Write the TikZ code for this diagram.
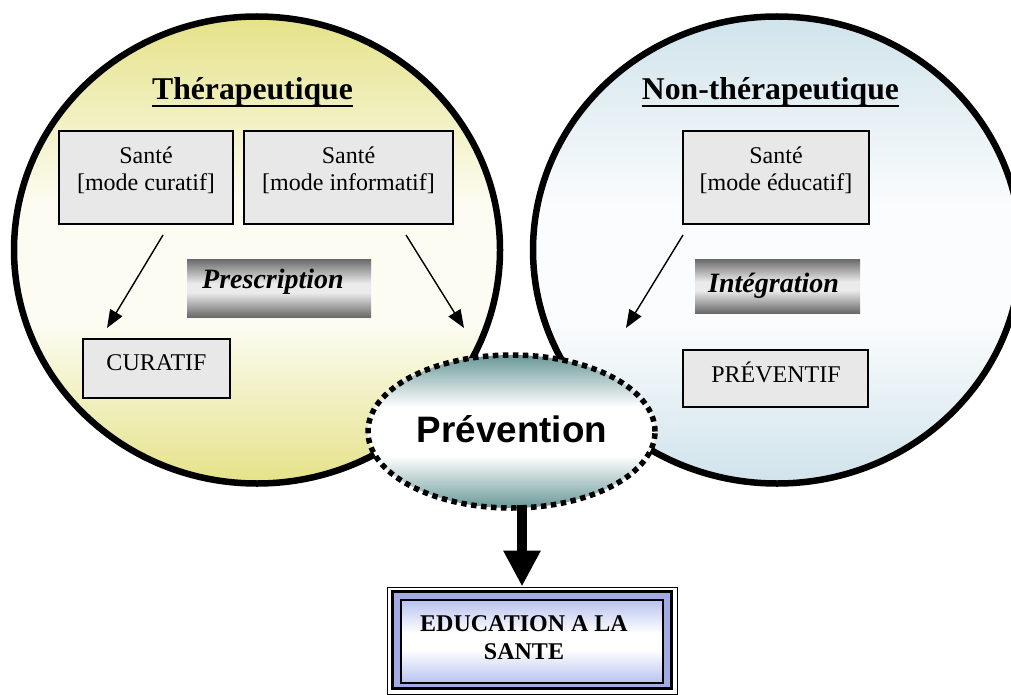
\documentclass[tikz,border=0pt]{standalone}
\usepackage{fontspec}
\setmainfont{Liberation Serif}
\newfontfamily\arialfont{Liberation Sans}
\usetikzlibrary{shapes.geometric,arrows.meta,calc}
\definecolor{cYel}{RGB}{229,226,136}
\definecolor{cYelL}{RGB}{252,252,242}
\definecolor{cBlu}{RGB}{208,227,235}
\definecolor{cBluL}{RGB}{250,252,253}
\definecolor{cTeal}{RGB}{106,152,152}
\definecolor{boxgray}{RGB}{232,232,232}
\definecolor{gDark}{RGB}{105,105,105}
\definecolor{gLight}{RGB}{235,235,235}
\definecolor{eduBand}{RGB}{160,172,226}
\definecolor{eduBlue}{RGB}{184,194,238}
\pgfdeclareverticalshading{leftshade}{100bp}{color(0bp)=(cYel); color(25bp)=(cYel); color(42bp)=(cYelL); color(55bp)=(cYelL); color(75bp)=(cYel); color(100bp)=(cYel)}
\pgfdeclareverticalshading{rightshade}{100bp}{color(0bp)=(cBlu); color(25bp)=(cBlu); color(42bp)=(cBluL); color(55bp)=(cBluL); color(75bp)=(cBlu); color(100bp)=(cBlu)}
\pgfdeclareverticalshading{prevshade}{100bp}{color(0bp)=(cTeal); color(25bp)=(cTeal); color(42bp)=(white); color(58bp)=(white); color(75bp)=(cTeal); color(100bp)=(cTeal)}
\pgfdeclareverticalshading{greyshade}{100bp}{color(0bp)=(gDark); color(25bp)=(gDark); color(46bp)=(gLight); color(54bp)=(gLight); color(75bp)=(gDark); color(100bp)=(gDark)}
\pgfdeclareverticalshading{edushade}{100bp}{color(0bp)=(eduBlue); color(25bp)=(eduBlue); color(45bp)=(white); color(55bp)=(white); color(75bp)=(eduBlue); color(100bp)=(eduBlue)}
\begin{document}
\begin{tikzpicture}[x=1pt,y=-1pt,
  bigcirc/.style={ellipse, draw, line width=6.5pt, inner sep=0pt, shade},
  box/.style={rectangle, draw, line width=1.4pt, fill=boxgray, inner sep=0pt},
  txt/.style={inner sep=0pt, font=\fontsize{24}{27.6}\selectfont, align=center},
  ttl/.style={inner sep=0pt, font=\fontsize{31.7}{38}\selectfont\bfseries},
  gbox/.style={rectangle, inner sep=0pt, shade, shading=greyshade},
  gtxt/.style={inner sep=0pt, anchor=base west, font=\fontsize{28}{32}\selectfont\bfseries\itshape},
  arr/.style={line width=1.4pt, -{Triangle[length=18pt,width=14pt]}}]
\useasboundingbox (0,0) rectangle (1011,695);
\clip (0,0) rectangle (1011,695);
% big circles
\node[bigcirc, shading=leftshade, minimum width=486pt, minimum height=467pt] (lc) at (257,250) {};
\node[bigcirc, shading=rightshade, minimum width=488pt, minimum height=467pt] (rc) at (777,250) {};
% titles
\node[ttl, anchor=base] (t1) at (252.5,100) {Thérapeutique};
\node[ttl, anchor=base] (t2) at (770.5,100) {Non-thérapeutique};
\draw[line width=2pt] ([yshift=-6pt]t1.base west) -- ([yshift=-6pt]t1.base east);
\draw[line width=2pt] ([yshift=-6pt]t2.base west) -- ([yshift=-6pt]t2.base east);
% boxes
\node[box, minimum width=174pt, minimum height=93pt] (b1) at (146,177.5) {};
\node[box, minimum width=209pt, minimum height=93pt] (b2) at (348.5,177.5) {};
\node[box, minimum width=186pt, minimum height=93pt] (b3) at (776,177.5) {};
\node[txt, anchor=north] (b1t) at (146,146.5) {Santé\\{[}mode curatif{]}};
\node[txt, anchor=north] (b2t) at (348.5,146.5) {Santé\\{[}mode informatif{]}};
\node[txt, anchor=north] (b3t) at (776,146.5) {Santé\\{[}mode éducatif{]}};
\node[box, minimum width=147pt, minimum height=59pt] (cur) at (156.5,368.5) {};
\node[txt, anchor=base] (curt) at (156.5,370) {CURATIF};
\node[box, minimum width=185pt, minimum height=57pt] (pre) at (775.5,378.5) {};
\node[txt, anchor=base] (pret) at (776,382) {PRÉVENTIF};
% grey labels
\node[gbox, minimum width=184pt, minimum height=58pt] (presc) at (279,288) {};
\node[gtxt] (presct) at (202,288) {Prescription};
\node[gbox, minimum width=165pt, minimum height=54pt] (integ) at (777.5,286) {};
\node[gtxt] (integt) at (708,292) {Intégration};
% thin arrows
\coordinate (a1s) at (163,235); \coordinate (a1e) at (107,328);
\coordinate (a2s) at (406,235); \coordinate (a2e) at (464,328);
\coordinate (a3s) at (683,235); \coordinate (a3e) at (626,328);
\draw[arr] (a1s) -- (a1e);
\draw[arr] (a2s) -- (a2e);
\draw[arr] (a3s) -- (a3e);
% Prevention ellipse
\node[ellipse, inner sep=0pt, minimum width=287pt, minimum height=153pt, shade, shading=prevshade, draw, line width=5.5pt, dash pattern=on 5.5pt off 4.5pt] (prev) at (511.5,431.5) {};
\node[inner sep=0pt, anchor=base, font=\arialfont\bfseries\fontsize{36.8}{40}\selectfont] (prevt) at (512,442) {Prévention};
% education box
\node[rectangle, draw, line width=1pt, fill=white, minimum width=290pt, minimum height=107pt] (edu) at (532,640.5) {};
\node[rectangle, draw, line width=3.5pt, fill=eduBand, minimum width=279pt, minimum height=97pt] (edu2) at (532,640) {};
\node[rectangle, draw, line width=1.2pt, shade, shading=edushade, minimum width=262pt, minimum height=83pt] (edu3) at (532,641.5) {};
\node[txt, anchor=north, font=\fontsize{24}{28}\selectfont\bfseries] (edut) at (524,615.8) {EDUCATION A LA\\SANTE};
% big arrow
\coordinate (ba) at (522,505);
\draw[line width=10pt, -{Triangle[length=36pt,width=35pt]}] (ba) -- (ba |- edu.north);
\end{tikzpicture}
\end{document}
